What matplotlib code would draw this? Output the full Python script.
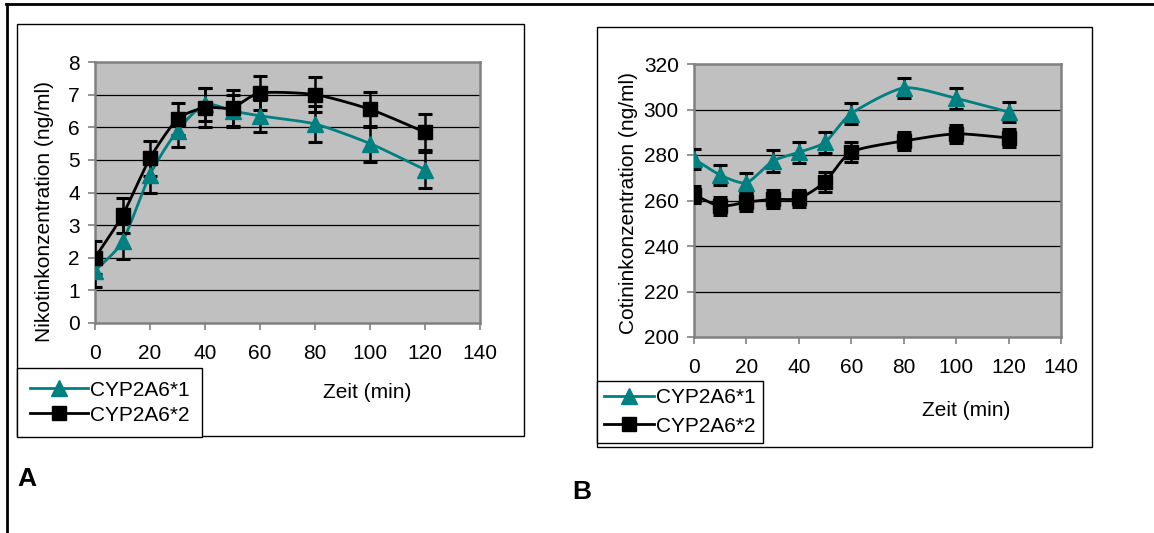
import numpy as np
import matplotlib
matplotlib.use("Agg")
import matplotlib.pyplot as plt
from matplotlib.lines import Line2D
from matplotlib.patches import Rectangle

plt.rcParams["font.family"] = ["Liberation Sans", "DejaVu Sans"]

# --- data -------------------------------------------------------------
zeit = [0, 10, 20, 30, 40, 50, 60, 80, 100, 120]

nik_1 = [1.6, 2.5, 4.55, 5.9, 6.7, 6.5, 6.35, 6.1, 5.5, 4.7]
nik_1_err = [0.5, 0.55, 0.55, 0.5, 0.5, 0.5, 0.5, 0.55, 0.55, 0.55]
nik_2 = [2.0, 3.3, 5.05, 6.25, 6.6, 6.6, 7.05, 7.0, 6.55, 5.85]
nik_2_err = [0.5, 0.53, 0.53, 0.5, 0.6, 0.55, 0.53, 0.53, 0.53, 0.55]

cot_1 = [278.3, 271.2, 267.8, 277.3, 281.2, 285.6, 298.2, 309.5, 304.9, 298.9]
cot_1_err = [4.5, 4.5, 4.5, 4.7, 4.5, 4.7, 4.6, 4.5, 4.7, 4.6]
cot_2 = [262.5, 257.5, 259.3, 260.5, 260.9, 268.2, 281.3, 286.2, 289.3, 287.5]
cot_2_err = [3.8, 4.0, 4.0, 4.0, 3.6, 4.3, 4.3, 4.0, 4.0, 4.0]

labels = ["CYP2A6*1", "CYP2A6*2"]
TEAL = "#008080"
GRAY = "#808080"
FS = 15

W, H = 1154, 533


def smooth(x, y, n=20):
    """Excel-style smoothed line (Catmull-Rom) through the given points."""
    x = np.asarray(x, float)
    y = np.asarray(y, float)
    px = np.concatenate([[2 * x[0] - x[1]], x, [2 * x[-1] - x[-2]]])
    py = np.concatenate([[2 * y[0] - y[1]], y, [2 * y[-1] - y[-2]]])
    xs, ys = [], []
    t = np.linspace(0, 1, n)
    for i in range(1, len(px) - 2):
        for p, out in ((px, xs), (py, ys)):
            p0, p1, p2, p3 = p[i - 1], p[i], p[i + 1], p[i + 2]
            m1 = (p2 - p0) / 2 * 0.7
            m2 = (p3 - p1) / 2 * 0.7
            h00 = 2 * t**3 - 3 * t**2 + 1
            h10 = t**3 - 2 * t**2 + t
            h01 = -2 * t**3 + 3 * t**2
            h11 = t**3 - t**2
            out.extend(h00 * p1 + h10 * m1 + h01 * p2 + h11 * m2)
    return xs, ys


def fig_rect(fig, x0, y0, x1, y1, lw=1.0):
    fig.patches.append(Rectangle((x0 / W, 1 - y1 / H), (x1 - x0) / W,
                                 (y1 - y0) / H, transform=fig.transFigure,
                                 fill=False, edgecolor="black", linewidth=lw))


def panel(fig, box, rect, s1, e1, s2, e2, ylim, ystep, ylabel, ylab_xy,
          xlab_xy, leg_xy, leg_opts, letter, letter_xy):
    fig_rect(fig, *box)
    ax = fig.add_axes([rect[0] / W, 1 - rect[3] / H,
                       (rect[2] - rect[0]) / W, (rect[3] - rect[1]) / H])
    ax.set_facecolor("#c0c0c0")
    for sp in ax.spines.values():
        sp.set_color(GRAY)
        sp.set_linewidth(1.8)
    ax.set_xlim(0, 140)
    ax.set_ylim(*ylim)
    ax.set_xticks(np.arange(0, 141, 20))
    ax.set_yticks(np.arange(ylim[0], ylim[1] + ystep / 2, ystep))
    ax.tick_params(labelsize=FS, color=GRAY, width=1.2, length=5)
    ax.tick_params(axis="x", pad=10)
    ax.tick_params(axis="y", pad=6)
    for yv in ax.get_yticks()[1:-1]:
        ax.axhline(yv, color="black", linewidth=0.9, zorder=1)

    for vals, errs, color, marker, ms in ((s1, e1, TEAL, "^", 11),
                                          (s2, e2, "black", "s", 10.5)):
        sx, sy = smooth(zeit, vals)
        ax.plot(sx, sy, color=color, linewidth=2, zorder=3)
        ax.errorbar(zeit, vals, yerr=errs, fmt="none", ecolor="black",
                    elinewidth=1.8, capsize=5, capthick=2.2, zorder=4)
        ax.plot(zeit, vals, linestyle="none", marker=marker, ms=ms,
                color=color, zorder=5)

    fig.text(ylab_xy[0] / W, 1 - ylab_xy[1] / H, ylabel, rotation=90,
             ha="center", va="center", fontsize=FS)
    fig.text(xlab_xy[0] / W, 1 - xlab_xy[1] / H, "Zeit (min)",
             ha="center", va="center", fontsize=FS)
    fig.text(letter_xy[0] / W, 1 - letter_xy[1] / H, letter,
             ha="left", va="center", fontsize=19, fontweight="bold")

    handles = [Line2D([], [], color=TEAL, lw=2, marker="^", ms=11),
               Line2D([], [], color="black", lw=2, marker="s", ms=10.5)]
    leg = fig.legend(handles, labels, loc="upper left",
                     bbox_to_anchor=(leg_xy[0] / W, 1 - leg_xy[1] / H),
                     fontsize=FS, frameon=True, fancybox=False,
                     edgecolor="black", framealpha=1, borderaxespad=0,
                     handletextpad=0.1, **leg_opts)
    leg.get_frame().set_linewidth(1.0)
    return ax


fig = plt.figure(figsize=(W / 100, H / 100), dpi=100)

# outer frame (top and left edges)
fig.add_artist(Line2D([6 / W, 1], [1 - 3.5 / H, 1 - 3.5 / H],
                      transform=fig.transFigure, color="black", lw=2))
fig.add_artist(Line2D([6.5 / W, 6.5 / W], [0, 1 - 3.5 / H],
                      transform=fig.transFigure, color="black", lw=2))

panel(fig, (17, 24, 524, 436), (95, 62, 480, 323),
      nik_1, nik_1_err, nik_2, nik_2_err, (0, 8), 1,
      "Nikotinkonzentration (ng/ml)", (45, 212), (367, 393), (17, 368),
      dict(borderpad=0.6, handlelength=2.8, labelspacing=0.3),
      "A", (17, 479))
panel(fig, (597, 27, 1092, 447), (694, 64, 1061, 337),
      cot_1, cot_1_err, cot_2, cot_2_err, (200, 320), 20,
      "Cotininkonzentration (ng/ml)", (628, 203), (966, 410), (597, 381),
      dict(borderpad=0.35, handlelength=2.4, labelspacing=0.45),
      "B", (572, 492))

fig.savefig("out.png", dpi=100)
